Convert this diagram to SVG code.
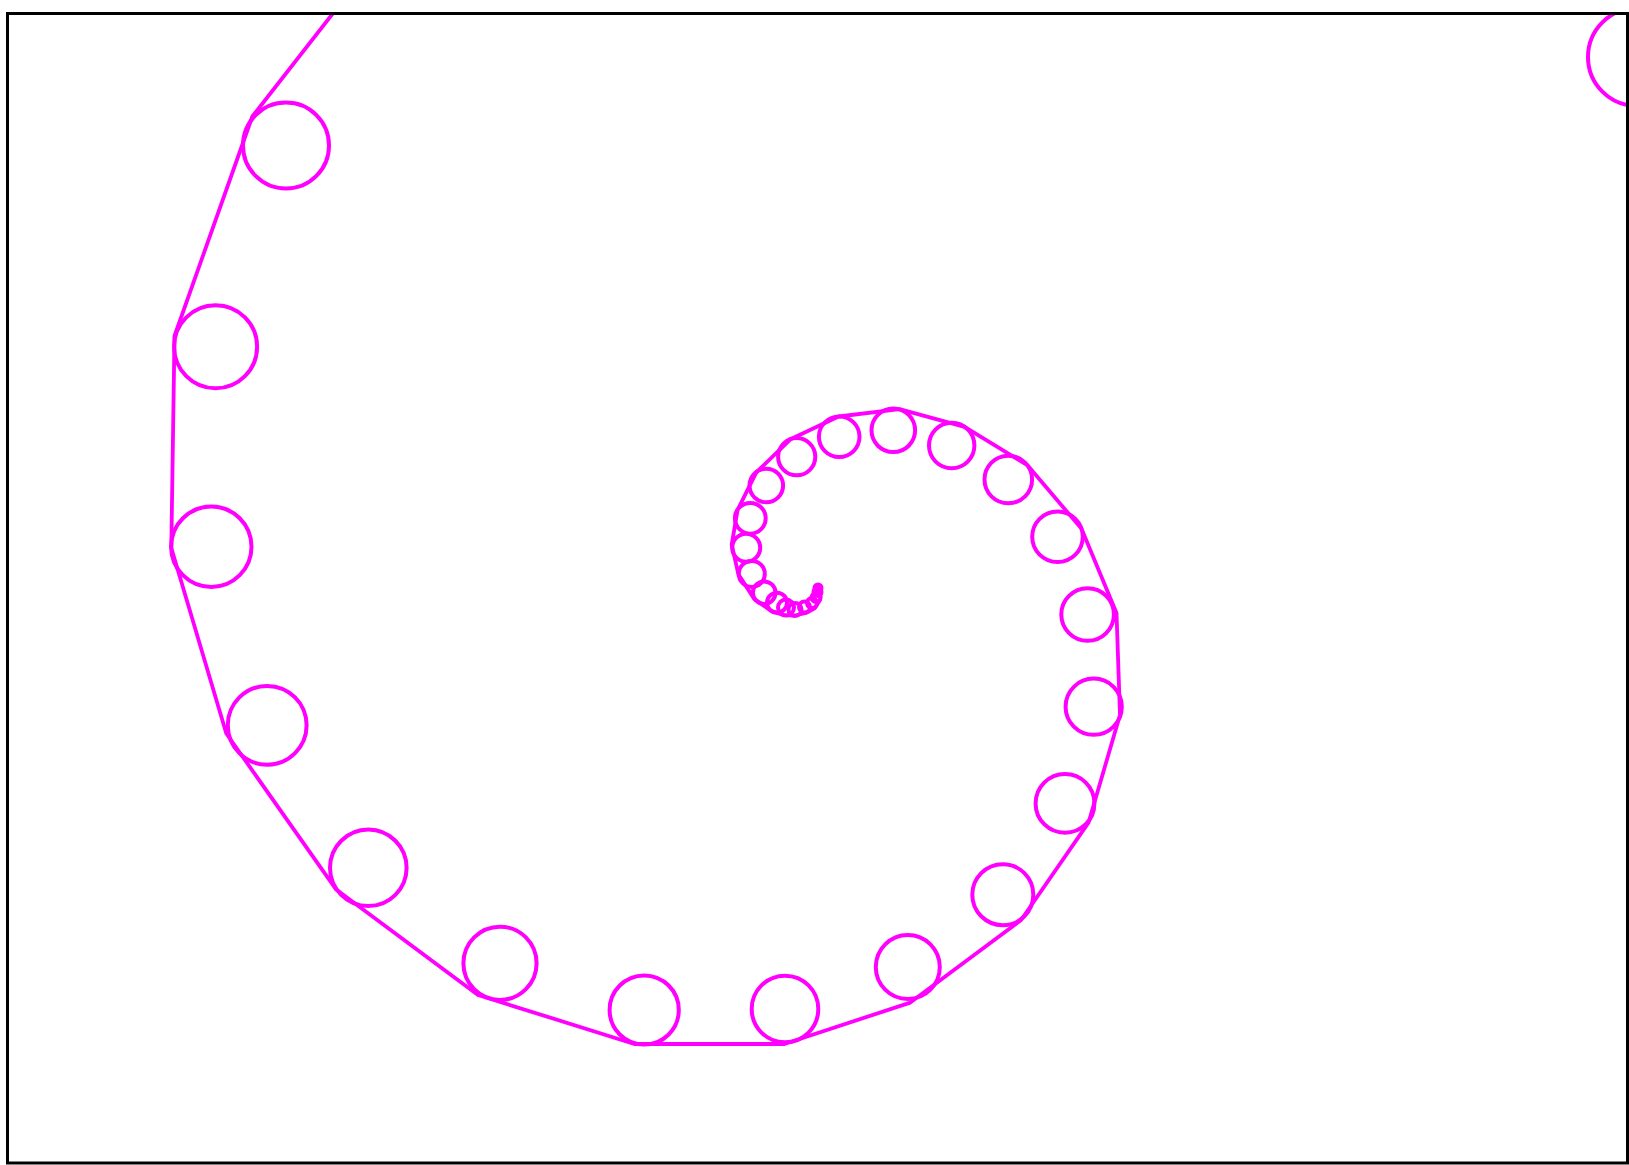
<svg xmlns="http://www.w3.org/2000/svg" width="1629" height="1165" viewBox="0 0 1629 1165">
<style>
.ring{fill:none;stroke:#ff00ff;stroke-width:4}
.path{fill:none;stroke:#ff00ff;stroke-width:3.8;stroke-linejoin:round;stroke-linecap:round}
.frame{fill:none;stroke:#000000;stroke-width:3}
</style>
<defs>
<clipPath id="clip"><rect x="7.5" y="13.5" width="1620" height="1149.5"/></clipPath>
</defs>
<rect x="0" y="0" width="1629" height="1165" fill="#ffffff"/>
<g clip-path="url(#clip)">
<g id="connectors">
<polyline class="path" points="397.7,-69.5 252.3,116.5 174.5,336 171.3,548 226.3,733.5 336.2,889.6 478,995 634.4,1044 784.4,1044 910.3,1002.6 1021.1,920 1088.5,822.7 1120,715 1116.5,613 1081.4,528.6 1027.3,465.1 964.6,426.8 899.5,409.2 838.6,416.5 790.4,439.3 756.3,472.4 737.6,509.9 731.7,544.6 738.4,574.4 754.2,598.9 770.8,610.7 783.7,615.1 795,615.5 806,613 815,608 820,600 821,592"/>
</g>
<g id="node-outer"><circle class="ring" cx="1637" cy="57" r="49"/></g>
<g id="node-0"><circle class="ring" cx="286" cy="145.5" r="43"/></g>
<g id="node-1"><circle class="ring" cx="215.6" cy="346.8" r="41.5"/></g>
<g id="node-2"><circle class="ring" cx="211.3" cy="546.7" r="40.2"/></g>
<g id="node-3"><circle class="ring" cx="267.2" cy="725.3" r="39.4"/></g>
<g id="node-4"><circle class="ring" cx="368.3" cy="867.8" r="38.3"/></g>
<g id="node-5"><circle class="ring" cx="500" cy="963.3" r="36.6"/></g>
<g id="node-6"><circle class="ring" cx="644.2" cy="1010" r="34.6"/></g>
<g id="node-7"><circle class="ring" cx="785" cy="1009" r="33.3"/></g>
<g id="node-8"><circle class="ring" cx="907.8" cy="967" r="32"/></g>
<g id="node-9"><circle class="ring" cx="1002.8" cy="894.7" r="30.5"/></g>
<g id="node-10"><circle class="ring" cx="1065" cy="803.4" r="29.4"/></g>
<g id="node-11"><circle class="ring" cx="1093.7" cy="706.7" r="28.1"/></g>
<g id="node-12"><circle class="ring" cx="1087.6" cy="614.5" r="26.3"/></g>
<g id="node-13"><circle class="ring" cx="1057.5" cy="536.8" r="25.3"/></g>
<g id="node-14"><circle class="ring" cx="1008.3" cy="479.5" r="23.8"/></g>
<g id="node-15"><circle class="ring" cx="951.7" cy="445.5" r="22.7"/></g>
<g id="node-16"><circle class="ring" cx="893.3" cy="430.3" r="21.8"/></g>
<g id="node-17"><circle class="ring" cx="839.2" cy="436.7" r="20.3"/></g>
<g id="node-18"><circle class="ring" cx="796.7" cy="456.7" r="18.6"/></g>
<g id="node-19"><circle class="ring" cx="766.3" cy="485.5" r="16.8"/></g>
<g id="node-20"><circle class="ring" cx="750.3" cy="518.3" r="15.4"/></g>
<g id="node-21"><circle class="ring" cx="746.2" cy="547.8" r="14"/></g>
<g id="node-22"><circle class="ring" cx="751.8" cy="573.9" r="13"/></g>
<g id="node-23"><circle class="ring" cx="764.2" cy="592.7" r="11.3"/></g>
<g id="node-24"><circle class="ring" cx="777" cy="602.7" r="10"/></g>
<g id="node-25"><circle class="ring" cx="786" cy="607.5" r="8"/></g>
<g id="node-26"><circle class="ring" cx="795" cy="609.5" r="6.5"/></g>
<g id="node-27"><circle class="ring" cx="804.5" cy="607" r="5.5"/></g>
<g id="node-28"><circle class="ring" cx="812" cy="603" r="5"/></g>
<g id="node-29"><circle class="ring" cx="816" cy="597.5" r="4.5"/></g>
<g id="node-30"><circle class="ring" cx="817.5" cy="592" r="4"/></g>
<g id="node-31"><circle class="ring" cx="818" cy="588" r="3.5"/></g>
</g>
<rect class="frame" x="7.5" y="13.5" width="1620" height="1149.5"/>
</svg>
